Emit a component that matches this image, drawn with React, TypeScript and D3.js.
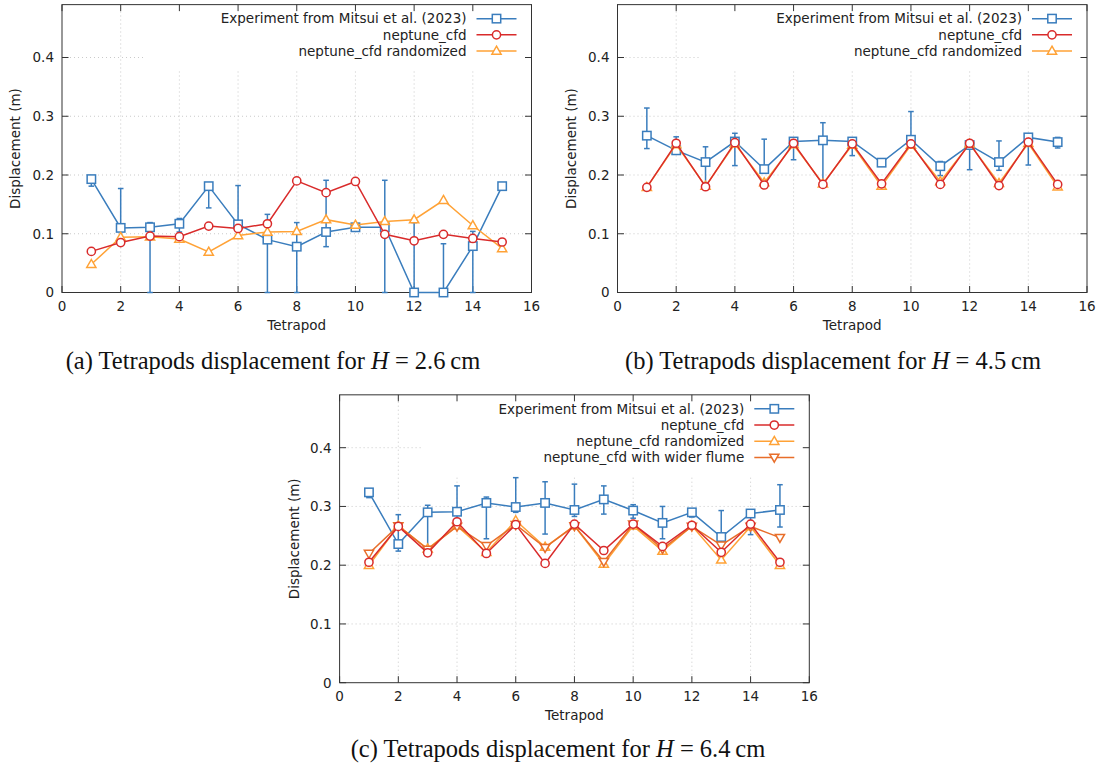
import React from "react";
import * as d3 from "d3";

// ---------- data ----------
const tetrapods = [1, 2, 3, 4, 5, 6, 7, 8, 9, 10, 11, 12, 13, 14, 15];
const xTicks = [0, 2, 4, 6, 8, 10, 12, 14, 16];
const yTicks = [0, 0.1, 0.2, 0.3, 0.4];

// (a) H = 2.6 cm
const expA = [0.193, 0.110, 0.111, 0.117, 0.181, 0.116, 0.090, 0.078, 0.103, 0.111, 0.111, 0.0, 0.0, 0.079, 0.181];
const expALow = [0.181, 0.106, 0.0, 0.103, 0.144, 0.112, 0.0, 0.0, 0.078, 0.106, 0.0, 0.0, 0.0, 0.0, 0.179];
const expAHigh = [0.196, 0.177, 0.119, 0.126, 0.184, 0.182, 0.133, 0.119, 0.191, 0.116, 0.191, 0.119, 0.083, 0.104, 0.183];
const cfdA = [0.070, 0.085, 0.096, 0.095, 0.113, 0.109, 0.117, 0.190, 0.170, 0.189, 0.099, 0.088, 0.099, 0.092, 0.086];
const randA = [0.048, 0.094, 0.095, 0.091, 0.069, 0.097, 0.103, 0.104, 0.124, 0.115, 0.121, 0.124, 0.157, 0.114, 0.075];

// (b) H = 4.5 cm
const expB = [0.267, 0.242, 0.222, 0.257, 0.210, 0.257, 0.259, 0.257, 0.221, 0.260, 0.215, 0.251, 0.222, 0.264, 0.256];
const expBLow = [0.245, 0.239, 0.187, 0.216, 0.207, 0.226, 0.189, 0.233, 0.219, 0.250, 0.199, 0.209, 0.208, 0.217, 0.246];
const expBHigh = [0.314, 0.265, 0.248, 0.271, 0.261, 0.260, 0.289, 0.259, 0.223, 0.308, 0.223, 0.254, 0.258, 0.266, 0.264];
const cfdB = [0.179, 0.254, 0.180, 0.255, 0.183, 0.254, 0.184, 0.253, 0.185, 0.253, 0.184, 0.254, 0.182, 0.256, 0.184];
const randB = [0.179, 0.252, 0.181, 0.253, 0.187, 0.252, 0.185, 0.251, 0.181, 0.251, 0.189, 0.253, 0.186, 0.254, 0.180];

// (c) H = 6.4 cm
const expC = [0.324, 0.236, 0.290, 0.291, 0.306, 0.299, 0.306, 0.294, 0.312, 0.293, 0.272, 0.290, 0.248, 0.288, 0.294];
const expCLow = [0.315, 0.224, 0.228, 0.270, 0.245, 0.290, 0.253, 0.283, 0.287, 0.280, 0.245, 0.282, 0.240, 0.252, 0.265];
const expCHigh = [0.329, 0.286, 0.302, 0.335, 0.316, 0.349, 0.342, 0.338, 0.335, 0.303, 0.300, 0.293, 0.293, 0.290, 0.337];
const cfdC = [0.205, 0.266, 0.221, 0.274, 0.220, 0.269, 0.203, 0.270, 0.225, 0.270, 0.232, 0.268, 0.222, 0.270, 0.205];
const randC = [0.200, 0.267, 0.228, 0.267, 0.222, 0.276, 0.231, 0.267, 0.202, 0.267, 0.224, 0.267, 0.209, 0.266, 0.200];
const wideC = [0.220, 0.267, 0.227, 0.266, 0.233, 0.269, 0.230, 0.267, 0.206, 0.270, 0.228, 0.266, 0.234, 0.266, 0.247];

const legendNames = [
  "Experiment from Mitsui et al. (2023)",
  "neptune_cfd",
  "neptune_cfd randomized",
  "neptune_cfd with wider flume",
];

// ---------- style ----------
const C_EXP = "#3a7dbd";
const C_CFD = "#d92b2b";
const C_RAND = "#ffa236";
const C_WIDE = "#e86e2a";
const AXIS = "#333";
const TEXT = "#222";
const FONT = "'DejaVu Sans', sans-serif";
const FS = 13.5;

type MarkerType = "square" | "circle" | "tri" | "tridown";
interface Series {
  name: string;
  values: number[];
  color: string;
  marker: MarkerType;
  low?: number[];
  high?: number[];
}

function Marker({ type, x, y, color }: { type: MarkerType; x: number; y: number; color: string }) {
  const sw = 1.5;
  if (type === "square")
    return <rect x={x - 4.2} y={y - 4.2} width={8.4} height={8.4} fill="white" stroke={color} strokeWidth={sw} />;
  if (type === "circle") return <circle cx={x} cy={y} r={4.1} fill="white" stroke={color} strokeWidth={sw} />;
  if (type === "tri")
    return (
      <path d={`M${x},${y - 4.8}L${x + 4.6},${y + 3.2}L${x - 4.6},${y + 3.2}Z`} fill="white" stroke={color} strokeWidth={sw} />
    );
  return (
    <path d={`M${x},${y + 4.8}L${x + 4.6},${y - 3.2}L${x - 4.6},${y - 3.2}Z`} fill="white" stroke={color} strokeWidth={sw} />
  );
}

interface PanelProps {
  left: number;
  right: number;
  bottom: number;
  ylabX: number;
  series: Series[];
  letter: string;
  hval: string;
  capX: number;
  capY: number;
}

function Panel({ left, right, bottom, ylabX, series, letter, hval, capX, capY }: PanelProps) {
  const yMax = 0.49;
  const x = d3.scaleLinear().domain([0, 16]).range([left, right]);
  const y = d3.scaleLinear().domain([0, yMax]).range([bottom, bottom - yMax * 587.5]);
  const top = y(yMax);
  const line = d3
    .line<number>()
    .x((_, i) => x(tetrapods[i]))
    .y((v) => y(v));
  const tick = 6.5;
  const textEnd = right - 65;
  const rowY = (i: number) => top + 14 + i * 16.2;
  const boxH = 16 + series.length * 16.2;
  // draw order: experiment, randomized, wider, cfd (cfd on top)
  const drawOrder = [...series].sort((a, b) => {
    const rank = (s: Series) => (s.marker === "square" ? 0 : s.marker === "circle" ? 3 : s.marker === "tri" ? 1 : 2);
    return rank(a) - rank(b);
  });
  return (
    <g>
      {/* grid */}
      {xTicks.slice(1, -1).map((t) => (
        <line key={"gx" + t} x1={x(t)} x2={x(t)} y1={bottom} y2={top} stroke="#bdbdbd" strokeWidth={0.8} strokeDasharray="1,3" />
      ))}
      {yTicks.slice(1).map((t) => (
        <line key={"gy" + t} x1={left} x2={right} y1={y(t)} y2={y(t)} stroke="#bdbdbd" strokeWidth={0.8} strokeDasharray="1,3" />
      ))}
      {/* legend background (opaque key box) */}
      <rect x={right - 388} y={top + 0.5} width={387.5} height={boxH} fill="white" />
      {/* border */}
      <rect x={left} y={top} width={right - left} height={bottom - top} fill="none" stroke={AXIS} strokeWidth={1} />
      {/* ticks */}
      {xTicks.map((t) => (
        <g key={"tx" + t}>
          <line x1={x(t)} x2={x(t)} y1={bottom} y2={bottom - tick} stroke={AXIS} />
          <line x1={x(t)} x2={x(t)} y1={top} y2={top + tick} stroke={AXIS} />
          <text x={x(t)} y={bottom + 18.5} textAnchor="middle" fontFamily={FONT} fontSize={FS} fill={TEXT}>
            {t}
          </text>
        </g>
      ))}
      {yTicks.map((t) => (
        <g key={"ty" + t}>
          <line x1={left} x2={left + tick} y1={y(t)} y2={y(t)} stroke={AXIS} />
          <line x1={right} x2={right - tick} y1={y(t)} y2={y(t)} stroke={AXIS} />
          <text x={left - 8} y={y(t) + 4.8} textAnchor="end" fontFamily={FONT} fontSize={FS} fill={TEXT}>
            {t === 0 ? "0" : t.toFixed(1)}
          </text>
        </g>
      ))}
      {/* axis labels */}
      <text x={(left + right) / 2} y={bottom + 37.5} textAnchor="middle" fontFamily={FONT} fontSize={FS} fill={TEXT}>
        Tetrapod
      </text>
      <text
        transform={`translate(${ylabX},${(top + bottom) / 2}) rotate(-90)`}
        dy="0.35em"
        textAnchor="middle"
        fontFamily={FONT}
        fontSize={FS}
        fill={TEXT}
      >
        Displacement (m)
      </text>
      {/* series */}
      {drawOrder.map((s) => (
        <g key={s.name}>
          <path d={line(s.values) || ""} fill="none" stroke={s.color} strokeWidth={1.5} />
          {s.low &&
            s.high &&
            s.values.map((_, i) => {
              const cx = x(tetrapods[i]);
              const y1 = y(s.low![i]);
              const y2 = y(s.high![i]);
              return (
                <g key={"e" + i} stroke={s.color} strokeWidth={1.5}>
                  <line x1={cx} x2={cx} y1={y1} y2={y2} />
                  <line x1={cx - 2.8} x2={cx + 2.8} y1={y1} y2={y1} />
                  <line x1={cx - 2.8} x2={cx + 2.8} y1={y2} y2={y2} />
                </g>
              );
            })}
          {s.values.map((v, i) => (
            <Marker key={"m" + i} type={s.marker} x={x(tetrapods[i])} y={y(v)} color={s.color} />
          ))}
        </g>
      ))}
      {/* legend */}
      {series.map((s, i) => (
        <g key={"lg" + i}>
          <text x={textEnd} y={rowY(i) + 4.8} textAnchor="end" fontFamily={FONT} fontSize={FS} fill={TEXT}>
            {s.name}
          </text>
          <line x1={right - 55} x2={right - 15} y1={rowY(i)} y2={rowY(i)} stroke={s.color} strokeWidth={1.5} />
          <Marker type={s.marker} x={right - 35} y={rowY(i)} color={s.color} />
        </g>
      ))}
      {/* caption */}
      <text x={capX} y={capY} textAnchor="middle" fontFamily="'Liberation Serif', 'Times New Roman', serif" fontSize={24.5} fill="#111">
        {`(${letter}) Tetrapods displacement for `}
        <tspan fontStyle="italic">H</tspan>
        {`\u2005=\u2005${hval}\u2009cm`}
      </text>
    </g>
  );
}

export default function App() {
  const seriesA: Series[] = [
    { name: legendNames[0], values: expA, low: expALow, high: expAHigh, color: C_EXP, marker: "square" },
    { name: legendNames[1], values: cfdA, color: C_CFD, marker: "circle" },
    { name: legendNames[2], values: randA, color: C_RAND, marker: "tri" },
  ];
  const seriesB: Series[] = [
    { name: legendNames[0], values: expB, low: expBLow, high: expBHigh, color: C_EXP, marker: "square" },
    { name: legendNames[1], values: cfdB, color: C_CFD, marker: "circle" },
    { name: legendNames[2], values: randB, color: C_RAND, marker: "tri" },
  ];
  const seriesC: Series[] = [
    { name: legendNames[0], values: expC, low: expCLow, high: expCHigh, color: C_EXP, marker: "square" },
    { name: legendNames[1], values: cfdC, color: C_CFD, marker: "circle" },
    { name: legendNames[2], values: randC, color: C_RAND, marker: "tri" },
    { name: legendNames[3], values: wideC, color: C_WIDE, marker: "tridown" },
  ];
  return (
    <svg width={1106} height={769} style={{ position: "absolute", left: 0, top: 0, background: "white" }}>
      <rect x={0} y={0} width={1106} height={769} fill="white" />
      <Panel left={62} right={531.5} bottom={292.5} ylabX={15.5} series={seriesA} letter="a" hval="2.6" capX={273} capY={369} />
      <Panel left={617.5} right={1087} bottom={292.5} ylabX={571} series={seriesB} letter="b" hval="4.5" capX={833} capY={369} />
      <Panel left={339.6} right={809.3} bottom={682.7} ylabX={293.8} series={seriesC} letter="c" hval="6.4" capX={558} capY={757} />
    </svg>
  );
}
